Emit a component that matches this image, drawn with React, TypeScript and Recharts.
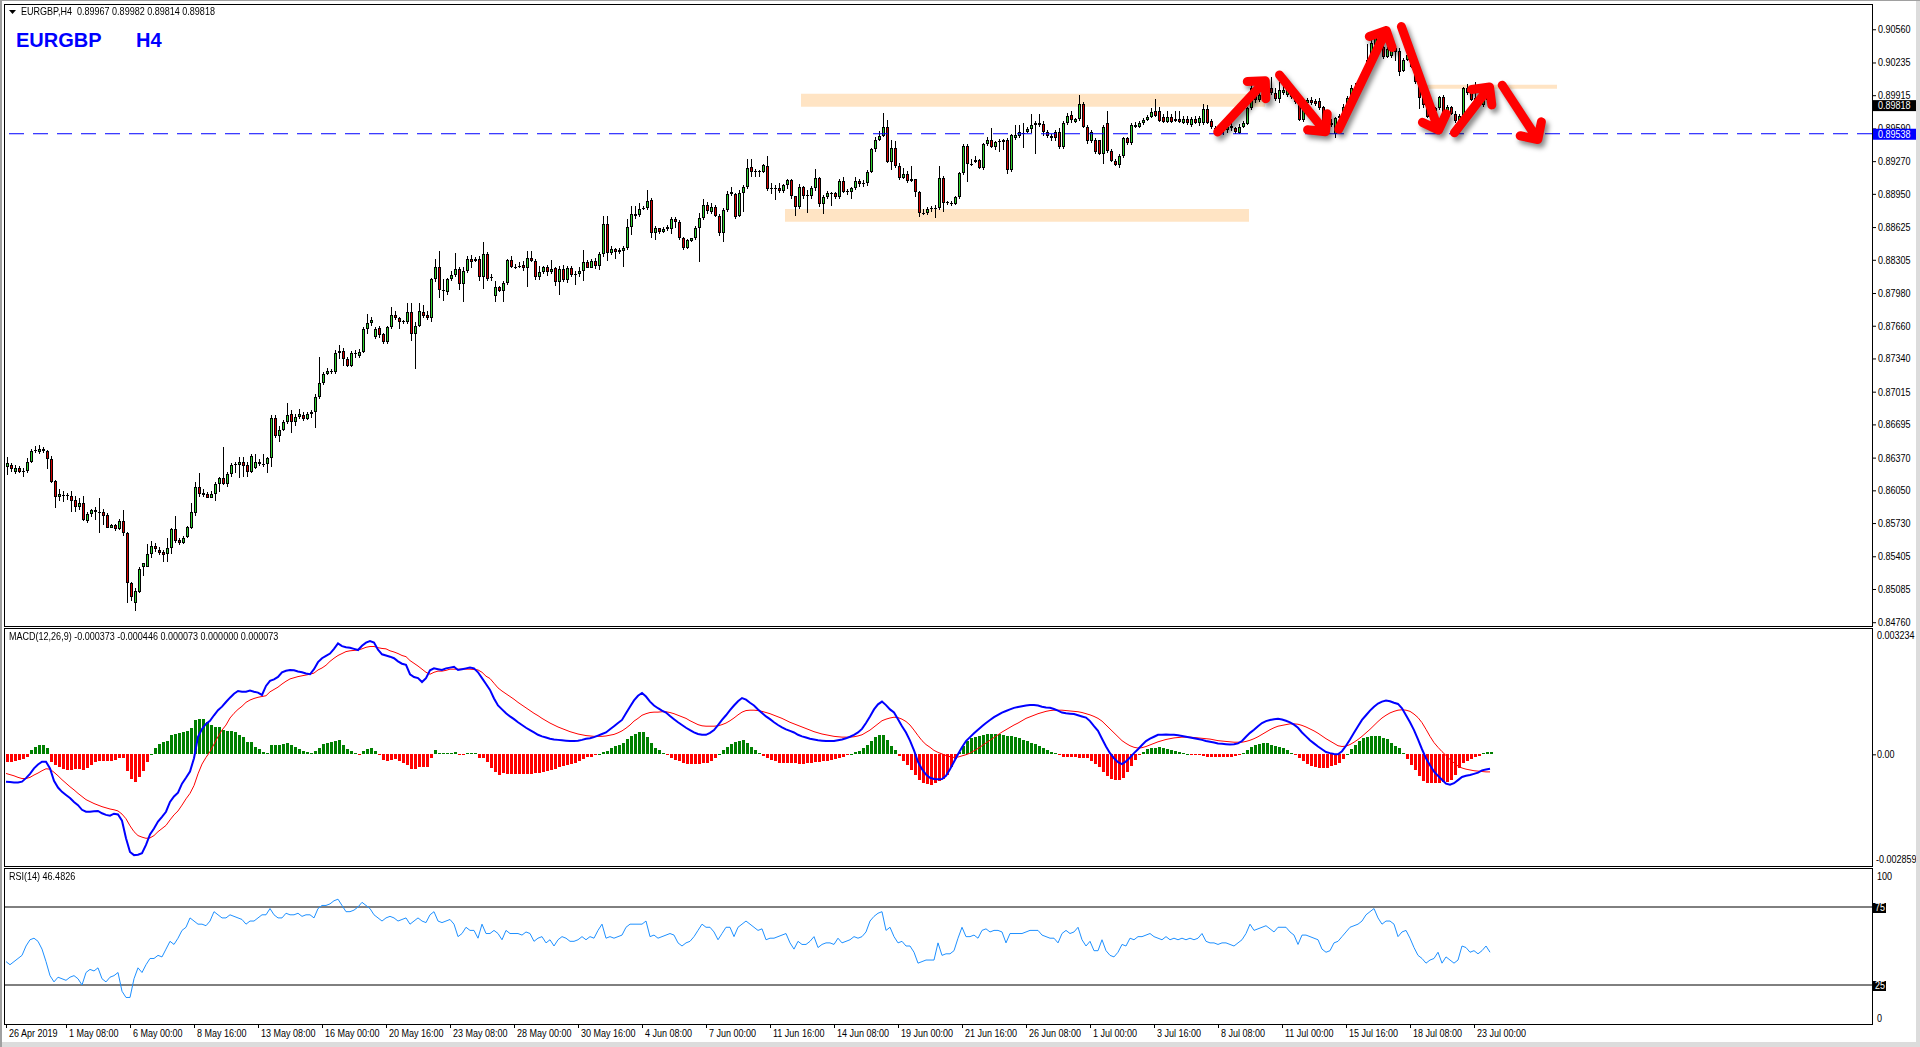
import React from "react";
import {
  Bar,
  ComposedChart,
  Line,
  ReferenceArea,
  ReferenceLine,
  XAxis,
  YAxis,
} from "recharts";

// EURGBP H4 candles, prices in points (1e-5)
const OPEN = [
  86275,86298,86233,86268,86239,86239,86330,86431,86428,86431,
  86434,86353,86140,85982,86002,86000,85995,85955,85890,85923,
  85753,85815,85858,85841,85841,85808,85685,85711,85669,85753,
  85629,85140,84945,85059,85303,85303,85424,85506,85466,85447,
  85424,85483,85672,85564,85538,85590,85685,85832,86079,86027,
  86011,85978,86011,86112,86167,86112,86206,86298,86298,86324,
  86298,86233,86272,86324,86304,86304,86364,86755,86582,86641,
  86716,86797,86722,86765,86788,86748,86794,86817,86964,87097,
  87189,87211,87211,87391,87413,87332,87270,87391,87368,87400,
  87625,87684,87553,87635,87576,87505,87645,87762,87736,87700,
  87700,87792,87577,87658,87798,87765,87733,88114,88232,88010,
  87990,88114,88157,88212,88065,88196,88313,88293,88310,88140,
  88359,88128,87952,88036,88004,88075,88304,88232,88240,88255,
  88222,88320,88297,88134,88190,88232,88183,88222,88085,88212,
  88108,88222,88163,88163,88196,88281,88229,88294,88248,88362,
  88653,88369,88411,88379,88395,88418,88630,88750,88744,88809,
  88809,88890,88564,88613,88581,88607,88607,88701,88672,88515,
  88418,88493,88515,88613,88711,88841,88776,88825,88734,88571,
  88793,88946,88946,88730,88955,89014,89210,89167,89174,89160,
  89223,88998,89005,89005,88978,89034,89086,88925,88825,89014,
  88933,88933,89005,89102,88848,88916,88956,88956,88923,89076,
  88972,88972,89005,89076,89047,89054,89161,89386,89477,89516,
  89601,89265,89402,89223,89109,89141,89076,89092,88965,88760,
  88760,88802,88809,88809,89102,88864,88848,88851,88916,89151,
  89419,89239,89265,89282,89200,89435,89477,89412,89454,89478,
  89478,89184,89501,89520,89543,89559,89582,89647,89647,89634,
  89553,89520,89553,89553,89412,89641,89722,89657,89680,89826,
  89601,89468,89478,89478,89341,89641,89373,89276,89233,89321,
  89494,89445,89624,89608,89641,89673,89700,89765,89765,89706,
  89657,89699,89663,89683,89641,89683,89624,89683,89641,89641,
  89781,89663,89592,89590,89575,89575,89615,89592,89550,89608,
  89634,89787,89983,89870,89918,89930,89983,89934,89876,89940,
  89918,89983,89901,89852,89673,89836,89869,89862,89862,89797,
  89657,89647,89536,89690,89700,89804,89885,89966,89993,90038,
  90097,90260,90407,90423,90384,90293,90300,90374,90351,90156,
  90260,90325,90195,90048,89895,89820,89700,89760,89787,89895,
  89690,89797,89732,89657,89712,89983,89940,89853,89885,89820,
  89869,89967,
];

const HIGH = [
  86379,86314,86298,86290,86265,86363,86450,86487,86493,86470,
  86445,86386,86150,86060,86046,86020,86043,85995,85972,85995,
  85841,85867,85884,85972,85867,85825,85720,85721,85766,85858,
  85640,85150,85092,85303,85336,85525,85558,85538,85493,85466,
  85581,85678,85799,85580,85603,85701,85929,86135,86223,86060,
  86037,86047,86135,86184,86477,86233,86320,86324,86379,86373,
  86324,86405,86405,86353,86405,86379,86788,86788,86680,86740,
  86905,86840,86800,86850,86818,86820,86840,86990,87352,87210,
  87250,87240,87420,87470,87440,87350,87410,87420,87430,87650,
  87770,87750,87650,87660,87590,87660,87840,87800,87750,87720,
  87880,87880,87700,87880,87860,87800,88130,88310,88390,88120,
  88130,88200,88370,88230,88230,88340,88350,88330,88340,88480,
  88380,88170,88100,88050,88100,88310,88340,88260,88280,88290,
  88395,88395,88310,88240,88240,88250,88300,88230,88240,88250,
  88245,88245,88200,88230,88400,88300,88310,88320,88380,88730,
  88730,88440,88420,88420,88440,88700,88830,88830,88860,88830,
  88990,88910,88640,88620,88630,88650,88720,88720,88690,88530,
  88510,88520,88640,88760,88900,88870,88860,88840,88750,88810,
  88980,89020,88960,88990,89040,89290,89290,89190,89180,89240,
  89320,89060,89040,89060,89050,89100,89100,88930,89050,89030,
  88990,89030,89190,89110,88940,88980,88970,88970,89100,89110,
  89000,89020,89110,89100,89090,89180,89400,89510,89560,89740,
  89670,89480,89470,89250,89200,89170,89220,89100,88980,88800,
  88820,88830,88840,89220,89120,88880,88880,88930,89160,89440,
  89440,89290,89320,89290,89450,89510,89590,89470,89490,89490,
  89500,89540,89620,89620,89640,89600,89730,89660,89730,89660,
  89570,89540,89570,89590,89660,89740,89760,89690,89920,89850,
  89620,89570,89500,89480,89620,89760,89390,89290,89340,89510,
  89510,89640,89650,89660,89690,89720,89790,89880,89800,89730,
  89760,89730,89760,89760,89710,89710,89700,89710,89710,89830,
  89820,89680,89610,89620,89620,89640,89640,89600,89630,89660,
  89800,90010,90000,89960,89970,90020,90095,89990,90040,90020,
  90010,90000,89920,89880,89870,89890,89900,89880,89890,89810,
  89680,89680,89700,89730,89830,89910,90010,90030,90070,90130,
  90420,90500,90520,90450,90440,90390,90440,90380,90380,90280,
  90340,90340,90210,90060,89950,89840,89780,89800,89910,89920,
  89820,89810,89760,89730,90000,90020,89960,90040,89900,89880,
  89990,89982,
];

const LOW = [
  86200,86233,86206,86220,86184,86218,86320,86412,86405,86415,
  86255,86125,85880,85949,85940,85956,85841,85841,85858,85753,
  85734,85792,85760,85636,85711,85680,85680,85656,85662,85603,
  84945,84971,84873,85049,85215,85297,85392,85450,85417,85352,
  85352,85427,85538,85515,85525,85581,85669,85799,85988,85988,
  85972,85972,85949,86037,86100,86079,86184,86216,86174,86177,
  86184,86223,86255,86288,86275,86223,86282,86560,86520,86631,
  86700,86612,86680,86745,86730,86740,86755,86660,86940,87080,
  87180,87185,87190,87330,87270,87260,87260,87340,87340,87390,
  87580,87660,87530,87540,87480,87480,87630,87720,87630,87680,
  87680,87510,87240,87650,87740,87720,87700,88090,87930,87900,
  87960,88100,88140,88010,87890,88180,88220,88280,88100,88020,
  88100,88100,87890,87990,87890,88060,88220,88215,88220,88200,
  88040,88280,88110,88110,88170,88150,88170,88050,87960,88090,
  88080,88140,88060,88140,88100,88220,88220,88215,88210,88330,
  88290,88350,88310,88360,88230,88400,88550,88700,88720,88790,
  88790,88520,88500,88560,88570,88590,88560,88620,88500,88400,
  88410,88480,88500,88280,88690,88750,88750,88720,88540,88480,
  88770,88930,88700,88720,88770,89000,89110,89110,89110,89150,
  88980,88950,88890,88960,88960,89000,88900,88730,88800,88900,
  88760,88900,88980,88820,88750,88900,88830,88900,88900,88960,
  88940,88900,88990,89020,89020,89030,89150,89360,89470,89510,
  89250,89180,89200,89090,89100,89060,89070,88920,88720,88740,
  88740,88770,88710,88790,88770,88840,88830,88840,88900,89130,
  89070,89220,89250,89190,89180,89420,89400,89380,89360,89380,
  89140,89160,89480,89500,89400,89550,89550,89340,89600,89520,
  89500,89470,89470,89390,89390,89620,89640,89640,89660,89590,
  89440,89450,89340,89330,89240,89350,89260,89220,89200,89300,
  89430,89430,89590,89590,89620,89660,89690,89700,89650,89640,
  89640,89640,89650,89640,89630,89620,89600,89630,89610,89620,
  89630,89580,89560,89540,89530,89550,89560,89540,89540,89590,
  89620,89770,89840,89850,89860,89890,89920,89860,89840,89920,
  89900,89880,89830,89660,89650,89820,89820,89810,89770,89640,
  89590,89600,89500,89670,89690,89790,89870,89950,89980,90020,
  90080,90240,90390,90340,90270,90280,90280,90250,90100,90140,
  90250,90180,90020,89780,89790,89690,89640,89740,89770,89600,
  89680,89720,89640,89640,89700,89920,89860,89840,89810,89800,
  89850,89814,
];

const CLOSE = [
  86314,86255,86272,86233,86242,86330,86434,86444,86450,86454,
  86353,86135,85982,86014,86008,85995,85949,85890,85929,85760,
  85815,85858,85835,85838,85802,85685,85708,85669,85753,85629,
  85140,85010,85062,85277,85336,85424,85506,85473,85440,85421,
  85483,85672,85554,85532,85580,85688,85835,86079,86011,86005,
  85978,86014,86112,86167,86109,86206,86298,86304,86324,86291,
  86233,86386,86324,86304,86306,86363,86755,86582,86641,86716,
  86788,86722,86765,86794,86748,86797,86817,86964,87097,87189,
  87218,87214,87391,87413,87332,87270,87391,87395,87400,87625,
  87684,87717,87625,87570,87505,87645,87762,87736,87700,87704,
  87792,87577,87658,87808,87759,87733,88114,88232,88010,88006,
  88114,88157,88212,88065,88196,88313,88287,88313,88140,88359,
  88118,88132,88036,88004,88082,88304,88238,88236,88245,88222,
  88320,88297,88134,88190,88232,88183,88212,88085,88212,88108,
  88222,88157,88160,88196,88281,88229,88294,88248,88362,88653,
  88369,88411,88379,88401,88424,88630,88750,88737,88802,88812,
  88881,88564,88613,88581,88607,88630,88701,88672,88515,88418,
  88499,88515,88613,88711,88841,88786,88825,88734,88571,88793,
  88946,88969,88721,88955,89014,89200,89167,89174,89163,89229,
  88998,89005,89008,88978,89034,89086,88925,88825,89014,88933,
  88936,89005,89102,88848,88916,88956,88959,88923,89076,88972,
  88975,89005,89076,89047,89054,89161,89386,89477,89516,89601,
  89265,89402,89223,89109,89141,89076,89092,88965,88760,88766,
  88802,88809,88806,89102,88864,88866,88864,88916,89151,89419,
  89239,89233,89282,89200,89435,89477,89412,89454,89467,89455,
  89184,89527,89527,89553,89546,89585,89624,89624,89624,89553,
  89520,89494,89494,89412,89641,89712,89673,89680,89826,89601,
  89468,89553,89357,89341,89601,89373,89276,89233,89321,89494,
  89445,89624,89608,89641,89673,89706,89755,89712,89667,89657,
  89706,89657,89683,89657,89683,89641,89683,89641,89690,89781,
  89647,89601,89595,89585,89608,89608,89592,89559,89608,89647,
  89787,89983,89870,89918,89940,89983,89934,89876,89967,89967,
  89983,89901,89852,89673,89852,89869,89843,89826,89787,89657,
  89608,89624,89690,89710,89804,89885,89983,89999,90048,90104,
  90260,90423,90472,90358,90293,90364,90374,90341,90146,90260,
  90309,90195,90048,89885,89820,89700,89760,89790,89895,89690,
  89797,89732,89660,89712,89983,89940,89869,89885,89820,89869,
  89967,89818,
];

// MACD(12,26,9) in 1e-5 units
const MACD_MAIN = [
  -70,-71,-72,-72,-70,-61,-50,-36,-26,-19,
  -19,-36,-68,-85,-96,-104,-112,-122,-130,-142,
  -147,-147,-146,-145,-151,-155,-157,-152,-154,-170,
  -215,-250,-258,-257,-253,-232,-205,-190,-172,-160,
  -147,-122,-108,-98,-75,-60,-44,-10,45,65,
  78,86,100,113,122,134,145,155,162,160,
  160,163,160,158,152,175,188,192,198,210,
  214,216,215,212,210,207,205,218,236,246,
  252,258,270,284,277,274,273,270,267,278,
  286,290,286,268,256,253,250,246,238,232,
  229,205,198,195,185,195,215,220,218,216,
  220,222,224,216,218,220,222,220,210,195,
  180,165,143,125,115,105,97,90,82,75,
  68,62,56,50,46,43,40,38,37,36,
  35,34,34,35,37,40,41,44,48,52,
  56,64,72,80,88,105,122,138,150,157,
  148,135,125,118,112,107,98,90,82,75,
  68,62,56,52,50,50,55,62,75,88,
  100,113,125,136,144,140,132,125,115,106,
  97,90,82,75,69,64,60,56,50,46,
  43,40,38,36,35,34,34,34,36,38,
  41,45,50,56,65,80,97,115,128,135,
  126,115,107,90,72,56,35,10,-19,-38,
  -52,-60,-63,-64,-63,-55,-38,-19,0,18,
  34,44,54,63,72,80,88,95,101,107,
  111,115,119,121,123,125,126,126,125,122,
  120,119,116,112,107,105,104,103,100,97,
  94,85,72,60,40,20,3,-10,-20,-25,
  -18,-8,3,13,24,34,40,45,50,50,
  51,50,50,49,47,45,43,41,39,37,
  34,32,30,28,27,26,25,26,28,34,
  45,55,63,72,80,85,88,90,91,89,
  86,82,76,68,56,46,36,28,20,13,
  6,3,1,0,8,22,38,55,72,88,
  100,112,122,130,135,138,136,132,129,118,
  100,82,62,38,13,-10,-28,-44,-55,-65,
  -75,-78,-74,-66,-58,-55,-53,-50,-47,-41,
  -39,-37,
];

const MACD_SIGNAL = [
  -49,-52,-55,-59,-62,-62,-59,-53,-48,-42,
  -37,-38,-46,-55,-65,-74,-83,-91,-100,-108,
  -116,-121,-126,-130,-134,-137,-140,-142,-145,-153,
  -165,-183,-198,-208,-212,-215,-214,-208,-198,-190,
  -182,-168,-155,-145,-130,-114,-100,-80,-50,-25,
  -8,7,26,45,62,75,93,105,115,123,
  133,139,143,146,148,150,160,166,172,180,
  187,193,196,199,201,203,205,208,216,221,
  228,238,246,253,258,263,265,266,267,270,
  274,276,276,273,271,270,265,262,258,253,
  250,240,233,226,218,210,205,210,213,213,
  215,218,218,218,218,218,218,217,216,210,
  200,194,182,170,162,155,148,141,133,126,
  119,112,105,99,92,86,80,75,70,66,
  62,58,55,52,50,48,47,46,46,46,
  47,49,51,55,60,67,75,85,92,100,
  104,107,108,108,109,109,107,104,100,96,
  92,86,81,76,73,72,72,72,73,76,
  80,86,93,101,108,112,113,113,112,110,
  107,104,100,96,92,87,82,78,74,70,
  66,62,58,55,52,50,48,46,45,44,
  44,44,45,47,50,56,62,70,78,86,
  90,93,95,94,90,84,75,62,48,35,
  25,18,10,5,1,-3,-6,-8,-7,-4,
  -1,3,9,15,22,29,36,43,50,57,
  63,69,75,80,86,92,96,100,104,107,
  110,112,113,113,113,112,111,110,109,107,
  104,101,97,92,85,75,65,55,45,35,
  28,22,18,16,17,20,24,28,32,35,
  38,40,42,43,44,44,44,43,42,41,
  40,39,37,35,34,33,32,31,31,31,
  33,36,40,45,51,57,63,68,72,74,
  76,78,78,77,74,70,65,60,54,47,
  40,34,28,22,20,21,25,31,38,46,
  55,64,74,84,93,100,106,110,113,114,
  113,110,103,94,81,64,46,30,18,7,
  -3,-13,-22,-30,-35,-38,-40,-42,-43,-44,
  -45,-45,
];

const MACD_HIST = [
  -19,-19,-17,-15,-12,-8,11,20,24,24,
  15,-19,-27,-33,-38,-40,-40,-38,-38,-40,
  -36,-27,-20,-17,-17,-17,-17,-15,-9,-10,
  -42,-63,-72,-57,-42,-19,2,17,26,32,
  34,49,51,54,56,60,68,88,90,90,
  84,75,71,71,62,60,60,56,49,45,
  31,31,20,13,5,3,24,24,24,26,
  28,24,20,14,9,7,3,9,17,26,
  29,31,34,37,24,13,9,3,-2,9,
  14,15,9,-2,-15,-17,-15,-13,-17,-21,
  -27,-38,-38,-32,-32,-32,-10,11,4,3,
  3,4,7,-2,-2,3,3,3,-10,-10,
  -20,-34,-44,-53,-47,-50,-51,-51,-51,-51,
  -51,-50,-49,-49,-46,-43,-40,-37,-33,-30,
  -27,-24,-21,-17,-13,-8,-6,-2,2,6,
  9,15,21,25,28,38,47,53,58,57,
  44,28,17,10,3,-2,-9,-14,-18,-21,
  -24,-24,-25,-24,-23,-22,-17,-10,2,12,
  20,27,32,35,36,28,19,12,3,-4,
  -10,-14,-18,-21,-23,-23,-22,-22,-24,-24,
  -23,-22,-20,-19,-17,-16,-14,-12,-9,-6,
  -3,1,5,9,15,24,35,45,50,49,
  36,22,12,-4,-18,-28,-40,-52,-67,-73,
  -77,-78,-73,-69,-64,-52,-32,-11,7,22,
  35,41,45,48,50,51,52,52,51,50,
  48,46,44,41,37,33,30,26,21,15,
  10,7,3,-1,-6,-7,-7,-7,-9,-10,
  -10,-16,-25,-32,-45,-55,-62,-65,-65,-60,
  -46,-30,-15,-3,7,14,16,17,18,15,
  13,10,8,6,3,1,-1,-2,-3,-4,
  -6,-7,-7,-7,-7,-7,-7,-5,-3,3,
  12,19,23,27,29,28,25,22,19,15,
  10,4,-2,-9,-18,-24,-29,-32,-34,-34,
  -34,-31,-27,-22,-12,1,13,24,34,42,
  45,48,48,46,42,38,30,22,16,4,
  -13,-28,-41,-56,-68,-74,-74,-74,-73,-72,
  -72,-65,-52,-36,-23,-17,-13,-8,-4,3,
  6,7,
];

// RSI(14)
const RSI = [
  40,38,40,42,44,50,54,55,53,48,
  40,31,27,30,29,28,30,31,29,25,
  33,35,34,36,29,27,30,31,33,21,
  17,17,29,36,33,38,42,42,44,43,
  48,53,51,55,60,62,68,66,64,64,
  63,66,72,70,68,68,70,69,68,67,
  64,66,66,68,70,70,74,70,68,68,
  71,70,70,71,69,70,70,68,74,76,
  76,77,79,80,76,72,72,73,75,78,
  76,74,70,68,66,68,69,68,66,67,
  68,64,66,68,66,65,70,72,66,65,
  66,67,64,56,58,62,60,60,55,64,
  58,58,60,58,54,60,58,58,58,57,
  59,58,53,55,56,52,54,50,54,56,
  55,53,53,54,56,54,56,55,60,64,
  55,56,55,56,57,62,64,64,64,64,
  66,56,57,55,56,57,58,57,52,50,
  52,53,56,60,64,62,62,59,54,58,
  62,62,56,62,64,66,64,62,60,61,
  54,55,55,56,57,58,52,48,53,51,
  51,53,56,49,51,52,52,51,55,52,
  53,54,56,55,56,59,66,69,71,72,
  60,62,56,52,53,50,50,46,39,40,
  41,41,41,52,44,45,45,47,55,62,
  56,56,57,55,60,61,59,60,60,59,
  52,58,58,58,58,59,60,60,60,57,
  56,55,55,52,58,60,58,59,62,54,
  50,53,47,47,54,47,44,43,46,51,
  50,55,54,56,56,57,58,56,55,54,
  56,54,55,54,55,54,55,54,55,58,
  53,52,52,51,52,52,51,50,52,54,
  58,64,60,61,62,63,61,59,62,62,
  62,59,57,51,57,57,56,55,54,48,
  46,47,52,53,56,59,62,63,64,66,
  70,72,74,68,64,66,66,64,56,59,
  60,55,49,44,42,39,41,42,46,39,
  43,41,39,41,50,49,46,47,45,47,
  50,46,
];

const TIME_TICKS = [
  0, 15, 31, 47, 63, 79, 95, 111, 127, 143, 159, 175, 191, 207, 223, 239, 255,
  271, 287, 303, 319, 335, 351, 367,
];
const TIME_LABELS = [
  "26 Apr 2019", "1 May 08:00", "6 May 00:00", "8 May 16:00", "13 May 08:00",
  "16 May 00:00", "20 May 16:00", "23 May 08:00", "28 May 00:00", "30 May 16:00",
  "4 Jun 08:00", "7 Jun 00:00", "11 Jun 16:00", "14 Jun 08:00", "19 Jun 00:00",
  "21 Jun 16:00", "26 Jun 08:00", "1 Jul 00:00", "3 Jul 16:00", "8 Jul 08:00",
  "11 Jul 00:00", "15 Jul 16:00", "18 Jul 08:00", "23 Jul 00:00",
];

const PRICE_TICKS = [
  0.9056, 0.90235, 0.89915, 0.8959, 0.8927, 0.8895, 0.88625, 0.88305, 0.8798,
  0.8766, 0.8734, 0.87015, 0.86695, 0.8637, 0.8605, 0.8573, 0.85405, 0.85085,
  0.8476,
];
const LAST_PRICE = 0.89818;
const LEVEL_PRICE = 0.89538;

// drawn objects: zones [x1, x2, y1, y2] and arrows [fromX, fromY, toX, toY]
const ZONES = [
  [198.75, 314.75, 0.89801, 0.89928],
  [194.75, 310.75, 0.88677, 0.88803],
  [355.25, 387.75, 0.89977, 0.90016],
];
const ARROWS = [
  [302.25, 0.89527, 315.5, 0.90085],
  [317.75, 0.90143, 330.5, 0.89527],
  [332.75, 0.89547, 345.5, 0.90583],
  [348.5, 0.90623, 358.5, 0.89537],
  [361.5, 0.89517, 371.5, 0.90026],
  [373.5, 0.90046, 383.5, 0.89449],
];

const SLOTS = 467;
const FONT = '"Liberation Sans", Arial, sans-serif';
const NARROW = 0.82;
const UP = "#2fd12f";
const DOWN = "#d40000";

const rows = Array.from({ length: SLOTS }, (_, i) => {
  if (i >= CLOSE.length) return { i };
  const o = OPEN[i] / 1e5;
  const c = CLOSE[i] / 1e5;
  const h = Math.max(HIGH[i], OPEN[i], CLOSE[i]) / 1e5;
  const l = Math.min(LOW[i], OPEN[i], CLOSE[i]) / 1e5;
  return {
    i,
    range: [l, h],
    o,
    c,
    h,
    l,
    macd: MACD_MAIN[i] / 1e5,
    signal: MACD_SIGNAL[i] / 1e5,
    hist: MACD_HIST[i] / 1e5,
    rsi: RSI[i],
  };
});

// narrow text, like the terminal's small font
function NText({ x, y, fill = "#000", children }: { x: number; y: number; fill?: string; children: React.ReactNode }) {
  return (
    <text
      x={0}
      y={0}
      transform={`translate(${x},${y}) scale(${NARROW},1)`}
      style={{ fontFamily: FONT, fontSize: 11, fill }}
    >
      {children}
    </text>
  );
}

function Candle(props: any) {
  const { x, y, width, height, payload } = props;
  if (!payload || payload.range == null || !Number.isFinite(y)) return null;
  const { o, c, h, l } = payload;
  const cx = Math.round(x + width / 2);
  const top0 = Math.min(y, y + height);
  const hh = Math.abs(height);
  const k = h - l > 0 ? hh / (h - l) : 0;
  const yO = top0 + (h - o) * k;
  const yC = top0 + (h - c) * k;
  const top = Math.round(Math.min(yO, yC));
  const bot = Math.round(Math.max(yO, yC));
  const wTop = Math.round(top0);
  const wBot = Math.round(top0 + hh);
  return (
    <g shapeRendering="crispEdges">
      <rect x={cx} y={wTop} width={1} height={Math.max(1, wBot - wTop)} fill="#000" />
      <rect x={cx - 1} y={top} width={3} height={Math.max(1, bot - top)} fill="#000" />
      {bot - top > 2 ? (
        <rect x={cx} y={top + 1} width={1} height={bot - top - 2} fill={c >= o ? UP : DOWN} />
      ) : null}
    </g>
  );
}

function HistBar(props: any) {
  const { x, y, width, height, payload } = props;
  if (!payload || payload.hist == null || !Number.isFinite(y)) return null;
  const cx = Math.round(x + width / 2);
  const top = Math.round(Math.min(y, y + height));
  const bot = Math.round(Math.max(y, y + height));
  return (
    <rect
      x={cx - 1}
      y={top}
      width={3}
      height={Math.max(1, bot - top)}
      fill={payload.hist >= 0 ? "#008000" : "#ff0000"}
      shapeRendering="crispEdges"
    />
  );
}

function ArrowShape(props: any) {
  const { x1, y1, x2, y2 } = props;
  if (![x1, y1, x2, y2].every(Number.isFinite)) return null;
  const ang = Math.atan2(y2 - y1, x2 - x1);
  const inset = 4;
  const ax = x1 + Math.cos(ang) * inset;
  const ay = y1 + Math.sin(ang) * inset;
  const bx = x2 - Math.cos(ang) * inset;
  const by = y2 - Math.sin(ang) * inset;
  const head = 18;
  const a1 = ang + Math.PI - 0.78;
  const a2 = ang + Math.PI + 0.78;
  const d = (dx: number, dy: number) =>
    `M${ax + dx},${ay + dy}L${bx + dx},${by + dy}` +
    `M${bx + dx + head * Math.cos(a1)},${by + dy + head * Math.sin(a1)}` +
    `L${bx + dx},${by + dy}` +
    `L${bx + dx + head * Math.cos(a2)},${by + dy + head * Math.sin(a2)}`;
  return (
    <g>
      <path
        d={d(3, 4)}
        stroke="rgba(0,0,0,0.45)"
        strokeWidth={9}
        fill="none"
        strokeLinecap="round"
        strokeLinejoin="round"
        filter="url(#arrowShadow)"
      />
      <path
        d={d(0, 0)}
        stroke="#ff0000"
        strokeWidth={9}
        fill="none"
        strokeLinecap="round"
        strokeLinejoin="round"
      />
    </g>
  );
}

function PriceTick({ x, y, payload }: any) {
  const v = payload.value;
  const label = v.toFixed(5);
  if (v === LAST_PRICE || v === LEVEL_PRICE) {
    return (
      <g>
        <rect x={x + 1} y={y - 5} width={43} height={11} fill={v === LAST_PRICE ? "#000" : "#0000ff"} />
        <NText x={x + 6} y={y + 4} fill="#fff">
          {label}
        </NText>
      </g>
    );
  }
  return (
    <g>
      <line x1={x} x2={x + 4} y1={y + 0.5} y2={y + 0.5} stroke="#000" />
      <NText x={x + 6} y={y + 4}>
        {label}
      </NText>
    </g>
  );
}

function MacdTick({ x, y, payload }: any) {
  const v = payload.value;
  if (v > 0) {
    return (
      <NText x={x + 5} y={y + 11}>
        0.003234
      </NText>
    );
  }
  if (v < 0) {
    return (
      <NText x={x + 4} y={y - 3}>
        -0.002859
      </NText>
    );
  }
  return (
    <g>
      <line x1={x} x2={x + 4} y1={y + 0.5} y2={y + 0.5} stroke="#000" />
      <NText x={x + 5} y={y + 4}>
        0.00
      </NText>
    </g>
  );
}

function RsiTick({ x, y, payload }: any) {
  const v = payload.value;
  if (v === 100) {
    return (
      <NText x={x + 5} y={y + 12}>
        100
      </NText>
    );
  }
  if (v === 0) {
    return (
      <NText x={x + 5} y={y - 2}>
        0
      </NText>
    );
  }
  return (
    <g>
      <rect x={x + 1} y={y - 4} width={13} height={10} fill="#000" />
      <NText x={x + 3} y={y + 4} fill="#fff">
        {v}
      </NText>
    </g>
  );
}

function TimeTick({ x, y, payload }: any) {
  const idx = TIME_TICKS.indexOf(payload.value);
  return (
    <g>
      <line x1={x + 0.5} x2={x + 0.5} y1={y} y2={y + 4} stroke="#000" />
      <NText x={x + 3} y={y + 13}>
        {TIME_LABELS[idx]}
      </NText>
    </g>
  );
}

function Frame({ top, height }: { top: number; height: number }) {
  return (
    <div
      style={{
        position: "absolute",
        left: 4,
        top,
        width: 1869,
        height,
        border: "1px solid #000",
        boxSizing: "border-box",
        pointerEvents: "none",
      }}
    />
  );
}

function Caption({ left, top, text }: { left: number; top: number; text: string }) {
  return (
    <div
      style={{
        position: "absolute",
        left,
        top,
        fontFamily: FONT,
        fontSize: 11,
        lineHeight: "11px",
        whiteSpace: "pre",
        transform: `scaleX(${NARROW})`,
        transformOrigin: "0 0",
      }}
    >
      {text}
    </div>
  );
}

export default function App() {
  return (
    <div
      style={{
        position: "fixed",
        left: 0,
        top: 0,
        width: 1920,
        height: 1047,
        background: "#fff",
        overflow: "hidden",
        fontFamily: FONT,
      }}
    >
      <svg width={0} height={0} style={{ position: "absolute" }}>
        <defs>
          <filter id="arrowShadow" x="-30%" y="-30%" width="160%" height="160%">
            <feGaussianBlur stdDeviation="2.5" />
          </filter>
        </defs>
      </svg>

      <div style={{ position: "absolute", left: 0, top: 0 }}>
        <ComposedChart width={1916} height={627} data={rows} margin={{ top: 4, right: 0, bottom: 1, left: 4 }}>
          <XAxis dataKey="i" type="category" hide />
          <XAxis xAxisId="n" dataKey="i" type="number" domain={[-0.5, 466.5]} allowDataOverflow hide />
          <YAxis
            orientation="right"
            width={44}
            domain={[0.84723, 0.90807]}
            allowDataOverflow
            ticks={[...PRICE_TICKS, LAST_PRICE, LEVEL_PRICE]}
            interval={0}
            tick={PriceTick}
            tickSize={0}
            tickMargin={0}
            axisLine={false}
            tickLine={false}
          />
          {ZONES.map((z, k) => (
            <ReferenceArea
              key={`z${k}`}
              xAxisId="n"
              x1={z[0]}
              x2={z[1]}
              y1={z[2]}
              y2={z[3]}
              fill="#ffe4c4"
              fillOpacity={1}
              stroke="none"
            />
          ))}
          <ReferenceLine y={LEVEL_PRICE} stroke="#0000ff" strokeDasharray="15 9" />
          <Bar dataKey="range" barSize={3} shape={Candle} isAnimationActive={false} />
          {ARROWS.map((a, k) => (
            <ReferenceLine
              key={`a${k}`}
              xAxisId="n"
              segment={[
                { x: a[0], y: a[1] },
                { x: a[2], y: a[3] },
              ]}
              ifOverflow="visible"
              shape={ArrowShape}
            />
          ))}
        </ComposedChart>
      </div>

      <div style={{ position: "absolute", left: 0, top: 628 }}>
        <ComposedChart width={1916} height={239} data={rows} margin={{ top: 0, right: 0, bottom: 1, left: 4 }}>
          <XAxis dataKey="i" type="category" hide />
          <YAxis
            orientation="right"
            width={44}
            domain={[-0.002859, 0.003234]}
            allowDataOverflow
            ticks={[0.003234, 0, -0.002859]}
            interval={0}
            tick={MacdTick}
            tickSize={0}
            tickMargin={0}
            axisLine={false}
            tickLine={false}
          />
          <Bar dataKey="hist" barSize={3} shape={HistBar} isAnimationActive={false} />
          <Line dataKey="signal" type="linear" stroke="#ff0000" strokeWidth={1} dot={false} isAnimationActive={false} />
          <Line dataKey="macd" type="linear" stroke="#0000ff" strokeWidth={2} dot={false} isAnimationActive={false} />
        </ComposedChart>
      </div>

      <div style={{ position: "absolute", left: 0, top: 868 }}>
        <ComposedChart width={1916} height={179} data={rows} margin={{ top: 0, right: 0, bottom: 3, left: 4 }}>
          <XAxis
            dataKey="i"
            type="number"
            domain={[-0.5, 466.5]}
            allowDataOverflow
            ticks={TIME_TICKS}
            interval={0}
            tick={TimeTick}
            tickSize={0}
            tickMargin={0}
            axisLine={false}
            tickLine={false}
            height={20}
          />
          <YAxis
            orientation="right"
            width={44}
            domain={[0, 100]}
            allowDataOverflow
            ticks={[100, 75, 25, 0]}
            interval={0}
            tick={RsiTick}
            tickSize={0}
            tickMargin={0}
            axisLine={false}
            tickLine={false}
          />
          <ReferenceLine y={75} stroke="#000" />
          <ReferenceLine y={25} stroke="#000" />
          <Line dataKey="rsi" type="linear" stroke="#1e90ff" strokeWidth={1} dot={false} isAnimationActive={false} />
        </ComposedChart>
      </div>

      <Frame top={4} height={623} />
      <Frame top={628} height={239} />
      <Frame top={868} height={157} />

      <svg style={{ position: "absolute", left: 9, top: 10 }} width={7} height={5}>
        <polygon points="0,0 7,0 3.5,4" fill="#000" />
      </svg>
      <Caption left={21} top={6} text="EURGBP,H4  0.89967 0.89982 0.89814 0.89818" />
      <div
        style={{
          position: "absolute",
          left: 16,
          top: 30,
          fontFamily: FONT,
          fontWeight: 700,
          fontSize: 20,
          lineHeight: "20px",
          color: "#0000ff",
        }}
      >
        EURGBP
      </div>
      <div
        style={{
          position: "absolute",
          left: 136,
          top: 30,
          fontFamily: FONT,
          fontWeight: 700,
          fontSize: 20,
          lineHeight: "20px",
          color: "#0000ff",
        }}
      >
        H4
      </div>
      <Caption left={9} top={631} text="MACD(12,26,9) -0.000373 -0.000446 0.000073 0.000000 0.000073" />
      <Caption left={9} top={871} text="RSI(14) 46.4826" />

      <div style={{ position: "absolute", left: 1916, top: 0, width: 4, height: 1047, background: "#dcdcdc" }} />
      <div style={{ position: "absolute", left: 0, top: 1042, width: 1920, height: 5, background: "#dcdcdc" }} />
      <div style={{ position: "absolute", left: 0, top: 0, width: 1920, height: 1, background: "#a0a0a0" }} />
      <div style={{ position: "absolute", left: 0, top: 0, width: 2, height: 1047, background: "#a0a0a0" }} />
    </div>
  );
}
